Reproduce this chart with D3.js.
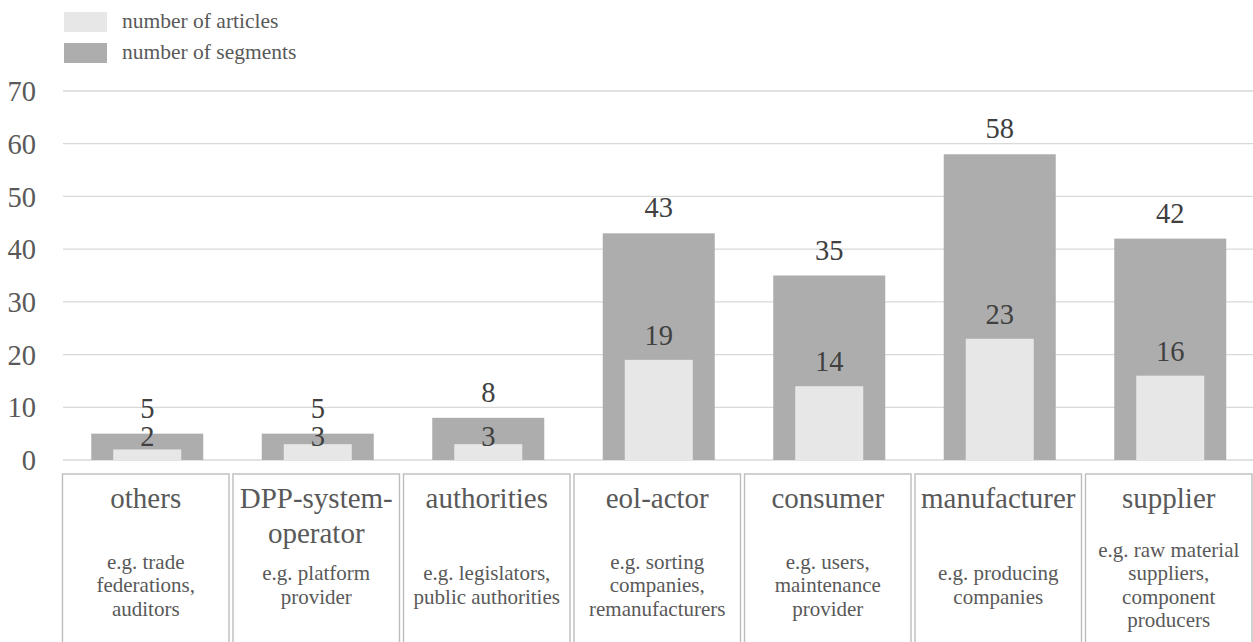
<!DOCTYPE html>
<html>
<head>
<meta charset="utf-8">
<script src="https://cdn.jsdelivr.net/npm/d3@7"></script>
<style>
  html, body { margin: 0; padding: 0; background: #fff; }
  svg { display: block; }
  svg text { font-family: "Liberation Serif", Tinos, "Times New Roman", "DejaVu Serif", serif !important; }
</style>
</head>
<body>
<svg id="chart" width="1253" height="642"></svg>
<script>
// Stakeholder groups shown along the x axis
const categories = ["others", "DPP-system-operator", "authorities", "eol-actor", "consumer", "manufacturer", "supplier"];
const titleLines = [["others"], ["DPP-system-", "operator"], ["authorities"], ["eol-actor"], ["consumer"], ["manufacturer"], ["supplier"]];
const exampleLines = [
  ["e.g. trade", "federations,", "auditors"],
  ["e.g. platform", "provider"],
  ["e.g. legislators,", "public authorities"],
  ["e.g. sorting", "companies,", "remanufacturers"],
  ["e.g. users,", "maintenance", "provider"],
  ["e.g. producing", "companies"],
  ["e.g. raw material", "suppliers,", "component", "producers"]
];

// Series values
const articles = [2, 3, 3, 19, 14, 23, 16];
const segments = [5, 5, 8, 43, 35, 58, 42];

// Axis ticks and legend labels
const yTicks = [0, 10, 20, 30, 40, 50, 60, 70];
const seriesNames = ["number of articles", "number of segments"];

const colArticles = "#e7e7e7";
const colSegments = "#adadad";
const textGrey = "#595959";
const labelDark = "#404040";

const svg = d3.select("#chart");

const left = 62, bandW = 170.5;
const x = d3.scaleBand()
  .domain(categories)
  .range([left, left + bandW * categories.length])
  .paddingInner(0).paddingOuter(0);

const y = d3.scaleLinear().domain([0, 70]).range([460, 91]);

// Gridlines
svg.append("g").selectAll("line")
  .data(yTicks)
  .join("line")
  .attr("x1", 63).attr("x2", 1253)
  .attr("y1", d => y(d)).attr("y2", d => y(d))
  .attr("stroke", "#d9d9d9").attr("stroke-width", 1.3);

// Y axis labels
const yAxis = d3.axisLeft(y).tickValues(yTicks).tickSize(0).tickPadding(0);
const gy = svg.append("g").attr("transform", "translate(36,0)").call(yAxis);
gy.select(".domain").remove();
gy.attr("font-family", null);
gy.selectAll("text")
  .attr("font-size", 28.5)
  .attr("fill", textGrey)
  .attr("dy", "0.34em");

const outerW = 112, innerW = 68;
const center = c => x(c) + x.bandwidth() / 2;

// Segment bars (wide, behind)
svg.append("g").selectAll("rect")
  .data(categories)
  .join("rect")
  .attr("x", (c) => center(c) - outerW / 2)
  .attr("width", outerW)
  .attr("y", (c, i) => y(segments[i]))
  .attr("height", (c, i) => y(0) - y(segments[i]))
  .attr("fill", colSegments);

// Article bars (narrow, in front)
svg.append("g").selectAll("rect")
  .data(categories)
  .join("rect")
  .attr("x", (c) => center(c) - innerW / 2)
  .attr("width", innerW)
  .attr("y", (c, i) => y(articles[i]))
  .attr("height", (c, i) => y(0) - y(articles[i]))
  .attr("fill", colArticles);

// Value labels above each bar
const labelSize = 28.5;
svg.append("g").selectAll("text")
  .data(categories)
  .join("text")
  .attr("x", c => center(c))
  .attr("y", (c, i) => y(segments[i]) - 16)
  .attr("text-anchor", "middle")
  .attr("font-size", labelSize)
  .attr("fill", labelDark)
  .text((c, i) => segments[i]);

svg.append("g").selectAll("text")
  .data(categories)
  .join("text")
  .attr("x", c => center(c))
  .attr("y", (c, i) => {
    const base = y(articles[i]) - 15;
    // keep short labels inside the wider bar so they do not cross its top edge
    return (base - 20 < y(segments[i])) ? y(0) - 14 : base;
  })
  .attr("text-anchor", "middle")
  .attr("font-size", labelSize)
  .attr("fill", labelDark)
  .text((c, i) => articles[i]);

// Category table below the plot
const tableTop = 474;
const cells = svg.append("g").selectAll("g")
  .data(categories)
  .join("g")
  .attr("transform", c => `translate(${x(c)},0)`);

cells.append("rect")
  .attr("x", 0.5).attr("y", tableTop)
  .attr("width", bandW - 4).attr("height", 200)
  .attr("fill", "none")
  .attr("stroke", "#bdbdbd").attr("stroke-width", 1.4);

const cellMid = (bandW - 4) / 2 + 0.5;

cells.each(function (c, i) {
  const g = d3.select(this);
  titleLines[i].forEach((t, k) => {
    g.append("text")
      .attr("x", cellMid).attr("y", 508 + k * 35)
      .attr("text-anchor", "middle")
      .attr("font-size", 29)
      .attr("fill", textGrey)
      .text(t);
  });
  const lines = exampleLines[i];
  const lh = 23.5;
  const mid = 585;
  lines.forEach((t, k) => {
    g.append("text")
      .attr("x", cellMid)
      .attr("y", mid + (k - (lines.length - 1) / 2) * lh + 7)
      .attr("text-anchor", "middle")
      .attr("font-size", 21)
      .attr("fill", textGrey)
      .text(t);
  });
});

// Legend
const legend = svg.append("g").selectAll("g")
  .data(seriesNames)
  .join("g")
  .attr("transform", (d, i) => `translate(64,${12 + i * 31})`);
legend.append("rect")
  .attr("width", 43).attr("height", 20)
  .attr("fill", (d, i) => i === 0 ? colArticles : colSegments);
legend.append("text")
  .attr("x", 58).attr("y", 16)
  .attr("font-size", 21.5)
  .attr("fill", textGrey)
  .text(d => d);
</script>
</body>
</html>
